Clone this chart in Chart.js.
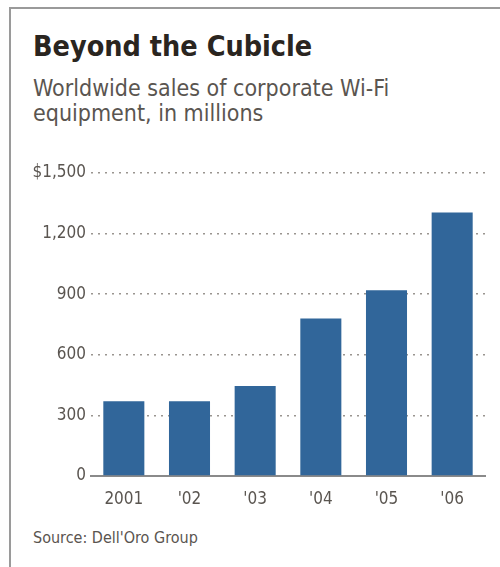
<!DOCTYPE html>
<html>
<head>
<meta charset="utf-8">
<script src="https://cdn.jsdelivr.net/npm/chart.js@4"></script>
<style>
  html, body { margin: 0; padding: 0; background: #fff; }
  body { width: 500px; height: 567px; position: relative; overflow: hidden;
    font-family: 'DejaVu Sans Condensed', sans-serif; }
  #frame { position: absolute; left: 9px; top: 7px; width: 491px; height: 560px;
    border-top: 2px solid #9a9a9a; border-left: 2px solid #9a9a9a; }
  #title { position: absolute; left: 33px; top: 30px; font-size: 28.5px; font-weight: bold;
    color: #2a2520; line-height: 34px; white-space: nowrap; }
  #subtitle { position: absolute; left: 33px; top: 76px; font-size: 23px; color: #5a5550;
    line-height: 25px; }
  #source { position: absolute; left: 33px; top: 528px; font-size: 16px; color: #5a5550; }
  #wrap { position: absolute; left: 0; top: 0; width: 500px; height: 567px; }
</style>
</head>
<body>
<div id="frame"></div>
<div id="title">Beyond the Cubicle</div>
<div id="subtitle">Worldwide sales of corporate Wi-Fi<br>equipment, in millions</div>
<div id="source">Source: Dell'Oro Group</div>
<div id="wrap"><canvas id="chart"></canvas></div>
<script>
// values, millions of dollars
const years = ['2001', "'02", "'03", "'04", "'05", "'06"];
const sales = [370, 370, 445, 780, 920, 1305];
const yTicks = [0, 300, 600, 900, 1200, 1500];
const yTickLabels = ['0', '300', '600', '900', '1,200', '$1,500'];

const labelFont = "'DejaVu Sans Condensed', sans-serif";

const ctx = document.getElementById('chart');
new Chart(ctx, {
  type: 'bar',
  data: {
    labels: years,
    datasets: [
      {
        data: sales,
        backgroundColor: '#31669a',
        barPercentage: 0.625,
        categoryPercentage: 1,
      },
    ],
  },
  options: {
    responsive: true,
    maintainAspectRatio: false,
    animation: false,
    layout: {
      padding: { top: 173, right: 15, bottom: 51, left: 0 },
    },
    plugins: {
      legend: { display: false },
      tooltip: { enabled: false },
    },
    scales: {
      x: {
        grid: { display: false },
        border: { display: true, color: '#8a8a8a', width: 2 },
        ticks: {
          color: '#5a5550',
          font: { family: labelFont, size: 17 },
          padding: 5,
        },
        afterFit: (scale) => {
          scale.height = 40;
        },
      },
      y: {
        min: 0,
        max: 1500,
        afterBuildTicks: (scale) => {
          scale.ticks = yTicks.map((v) => ({ value: v }));
        },
        grid: {
          color: (c) => (c.tick && c.tick.value === 0 ? 'rgba(0,0,0,0)' : '#9a9590'),
          lineWidth: 1.5,
          drawTicks: false,
        },
        border: { display: false, dash: [2, 5] },
        ticks: {
          color: '#5a5550',
          font: { family: labelFont, size: 17 },
          padding: 5,
          callback: (value, index) => yTickLabels[index],
        },
        afterFit: (scale) => {
          scale.width = 91;
        },
      },
    },
  },
});
</script>
</body>
</html>
